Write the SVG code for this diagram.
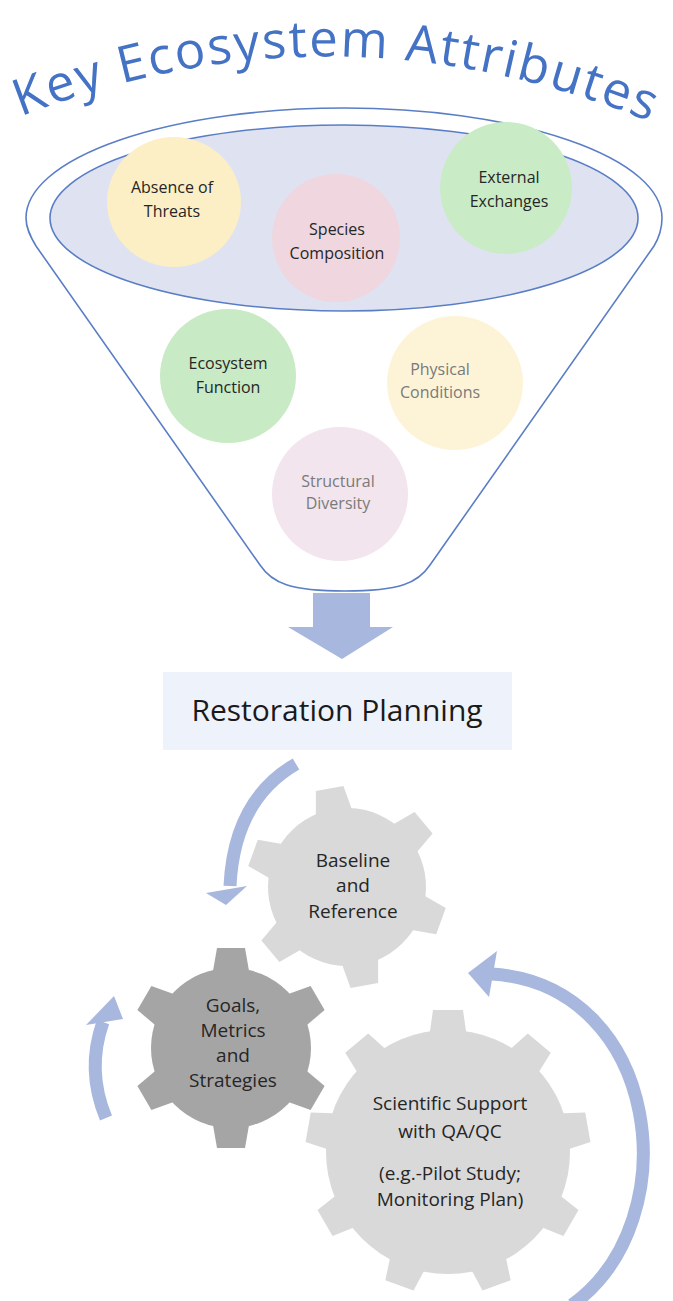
<svg xmlns="http://www.w3.org/2000/svg" xmlns:xlink="http://www.w3.org/1999/xlink" width="673" height="1301" viewBox="0 0 673 1301">
<style>
.lbl{font-family:"Open Sans","Liberation Sans",sans-serif;font-size:16px;text-anchor:middle;fill:#262626}
.lbl.pale{fill:#7a7a7a}
.glbl{font-family:"Open Sans","Liberation Sans",sans-serif;font-size:19px;text-anchor:middle;fill:#262626}
.funnel{fill:#ffffff;stroke:#5a7ec6;stroke-width:1.6}
.band{fill:none;stroke:#a8b7de;stroke-width:13}
.head{fill:#a8b7de}
</style>
<defs>
<path id="arc" d="M 12 120 Q 336 -10 660 126"/>
<polygon id="t6" points="-21,-60 21,-60 14,-100 -14,-100"/>
<polygon id="t9" points="-21,-100 21,-100 15,-142 -15,-142"/>
</defs>
<rect width="673" height="1301" fill="#ffffff"/>

<g id="title">
<text font-family="'Open Sans','Liberation Sans',sans-serif" font-size="51" letter-spacing="2" fill="#4472c4" text-anchor="middle"><textPath href="#arc" xlink:href="#arc" startOffset="50%">Key Ecosystem Attributes</textPath></text>
</g>

<g id="funnel">
<path class="funnel" d="M 26 218 A 318 110 0 0 1 662 218 C 662 228 660 236 654 246 L 430 565 C 418 583 400 591 345 591 C 290 591 272 583 260 565 L 36 246 C 30 236 26 228 26 218 Z"/>
<ellipse cx="344" cy="218" rx="294" ry="93" fill="#dfe3f1" stroke="#5a7ec6" stroke-width="1.6"/>
</g>

<g id="absence">
<ellipse cx="174" cy="202" rx="67" ry="65" fill="#fcefc6"/>
<text class="lbl" x="172" y="193">Absence of</text>
<text class="lbl" x="172" y="217">Threats</text>
</g>
<g id="species">
<ellipse cx="336" cy="238" rx="64" ry="64" fill="#efd6df"/>
<text class="lbl" x="337" y="235">Species</text>
<text class="lbl" x="337" y="259">Composition</text>
</g>
<g id="external">
<ellipse cx="506" cy="188" rx="66" ry="66" fill="#c9ecc6"/>
<text class="lbl" x="509" y="183">External</text>
<text class="lbl" x="509" y="207">Exchanges</text>
</g>
<g id="ecofunction">
<ellipse cx="228" cy="376" rx="68" ry="67" fill="#c8eac5"/>
<text class="lbl" x="228" y="369">Ecosystem</text>
<text class="lbl" x="228" y="393">Function</text>
</g>
<g id="physical">
<ellipse cx="455" cy="383" rx="68" ry="67" fill="#fdf4d8"/>
<text class="lbl pale" x="440" y="375">Physical</text>
<text class="lbl pale" x="440" y="398">Conditions</text>
</g>
<g id="structural">
<ellipse cx="340" cy="494" rx="68" ry="67" fill="#f2e5ed"/>
<text class="lbl pale" x="338" y="487">Structural</text>
<text class="lbl pale" x="338" y="509">Diversity</text>
</g>

<g id="down-arrow">
<polygon class="head" points="313,593 370,593 370,627 393,627 342,659 288,627 313,627"/>
</g>

<g id="restoration">
<rect x="163" y="672" width="349" height="78" fill="#eef2fa"/>
<text x="337" y="721" font-family="'Open Sans','Liberation Sans',sans-serif" font-size="30" fill="#1a1a1a" text-anchor="middle">Restoration Planning</text>
</g>

<g id="gear-baseline">
<g transform="translate(347,887) rotate(-10)" fill="#d9d9d9">
<circle r="79"/>
<use href="#t6" xlink:href="#t6"/>
<use href="#t6" xlink:href="#t6" transform="rotate(60)"/>
<use href="#t6" xlink:href="#t6" transform="rotate(120)"/>
<use href="#t6" xlink:href="#t6" transform="rotate(180)"/>
<use href="#t6" xlink:href="#t6" transform="rotate(240)"/>
<use href="#t6" xlink:href="#t6" transform="rotate(300)"/>
</g>
<text class="glbl" x="353" y="867">Baseline</text>
<text class="glbl" x="353" y="892">and</text>
<text class="glbl" x="353" y="918">Reference</text>
</g>

<g id="gear-goals">
<g transform="translate(231,1048)" fill="#a6a5a5">
<circle r="80"/>
<use href="#t6" xlink:href="#t6"/>
<use href="#t6" xlink:href="#t6" transform="rotate(60)"/>
<use href="#t6" xlink:href="#t6" transform="rotate(120)"/>
<use href="#t6" xlink:href="#t6" transform="rotate(180)"/>
<use href="#t6" xlink:href="#t6" transform="rotate(240)"/>
<use href="#t6" xlink:href="#t6" transform="rotate(300)"/>
</g>
<text class="glbl" x="233" y="1012">Goals,</text>
<text class="glbl" x="233" y="1037">Metrics</text>
<text class="glbl" x="233" y="1062">and</text>
<text class="glbl" x="233" y="1087">Strategies</text>
</g>

<g id="gear-scientific">
<g transform="translate(448,1152)" fill="#d9d9d9">
<circle r="122"/>
<use href="#t9" xlink:href="#t9"/>
<use href="#t9" xlink:href="#t9" transform="rotate(40)"/>
<use href="#t9" xlink:href="#t9" transform="rotate(80)"/>
<use href="#t9" xlink:href="#t9" transform="rotate(120)"/>
<use href="#t9" xlink:href="#t9" transform="rotate(160)"/>
<use href="#t9" xlink:href="#t9" transform="rotate(200)"/>
<use href="#t9" xlink:href="#t9" transform="rotate(240)"/>
<use href="#t9" xlink:href="#t9" transform="rotate(280)"/>
<use href="#t9" xlink:href="#t9" transform="rotate(320)"/>
</g>
<text class="glbl" x="450" y="1110">Scientific Support</text>
<text class="glbl" x="450" y="1138">with QA/QC</text>
<text class="glbl" x="450" y="1180">(e.g.-Pilot Study;</text>
<text class="glbl" x="450" y="1206">Monitoring Plan)</text>
</g>

<g id="connectors">
<path class="band" d="M 296 764 Q 234 800 230 886"/>
<polygon class="head" points="206,893 247,886 226,905"/>
<path class="band" d="M 106 1118 Q 86 1070 103 1022"/>
<polygon class="head" points="86,1025 123,1019 114,996"/>
<path class="band" d="M 572 1305 C 690 1220 660 985 492 974"/>
<polygon class="head" points="497,951 489,997 468,973"/>
</g>
</svg>
